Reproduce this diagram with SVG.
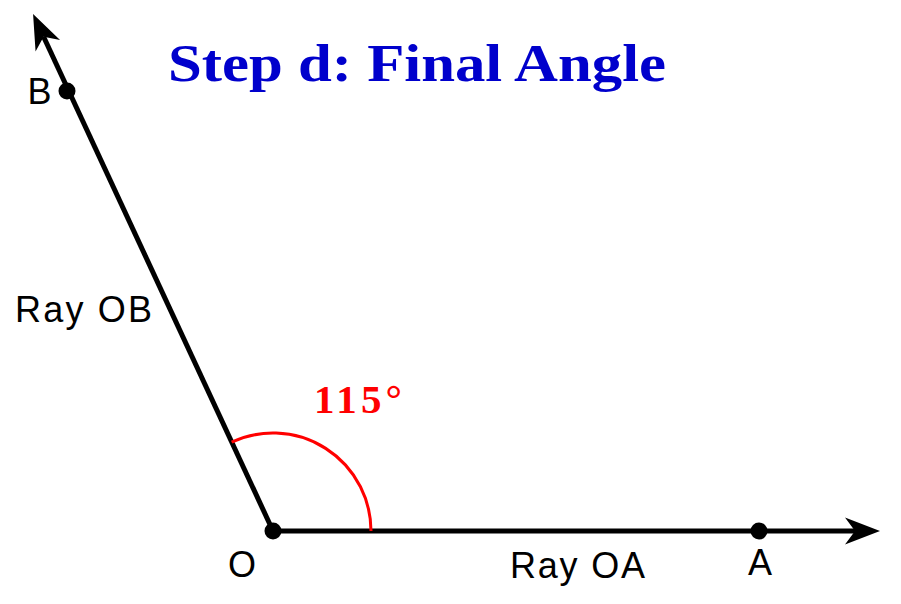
<svg xmlns="http://www.w3.org/2000/svg" width="901" height="604" viewBox="0 0 901 604">
  <style>
    .ray { stroke: #000; stroke-width: 5; fill: none; }
    .pt { fill: #000; }
    .lbl { font-family: "Liberation Sans", "DejaVu Sans", sans-serif; font-size: 36px; fill: #000; }
    .title { font-family: "Liberation Serif", "DejaVu Serif", serif; font-weight: bold; font-size: 52px; fill: #0000CC; }
    .ang { font-family: "Liberation Serif", "DejaVu Serif", serif; font-weight: bold; font-size: 41px; fill: #FF0000; }
  </style>
  <defs>
    <marker id="arrow" markerUnits="userSpaceOnUse" markerWidth="40" markerHeight="30" viewBox="-12 -15 40 30" refX="0" refY="0" orient="auto" overflow="visible">
      <path d="M25,0 L-10,-13.5 L0,0 L-10,13.5 Z" fill="#000"/>
    </marker>
  </defs>
  <rect width="901" height="604" fill="#fff"/>
  <text class="title" x="168" y="81" textLength="498" lengthAdjust="spacingAndGlyphs">Step d: Final Angle</text>
  <g id="connectors">
    <line id="rayOA" class="ray" x1="273" y1="531" x2="855" y2="531" marker-end="url(#arrow)"/>
    <line id="rayOB" class="ray" x1="273" y1="531" x2="43.6" y2="36.7" marker-end="url(#arrow)"/>
    <path id="angleArc" d="M371,531 A98,98 0 0 0 231.6,442.2" fill="none" stroke="#FF0000" stroke-width="3"/>
  </g>
  <g id="O">
    <circle class="pt" cx="273" cy="531" r="8.5"/>
    <text class="lbl" x="242" y="577" text-anchor="middle">O</text>
  </g>
  <g id="A">
    <circle class="pt" cx="759" cy="531" r="8.5"/>
    <text class="lbl" x="760" y="575" text-anchor="middle">A</text>
  </g>
  <g id="B">
    <circle class="pt" cx="67" cy="91" r="8.5"/>
    <text class="lbl" x="39.5" y="104" text-anchor="middle">B</text>
  </g>
  <g id="labelOA">
    <text class="lbl" x="510" y="578" textLength="135">Ray OA</text>
  </g>
  <g id="labelOB">
    <text class="lbl" x="15" y="322" textLength="137">Ray OB</text>
  </g>
  <g id="angleLabel">
    <text class="ang" x="314" y="413" textLength="88">115°</text>
  </g>
</svg>
